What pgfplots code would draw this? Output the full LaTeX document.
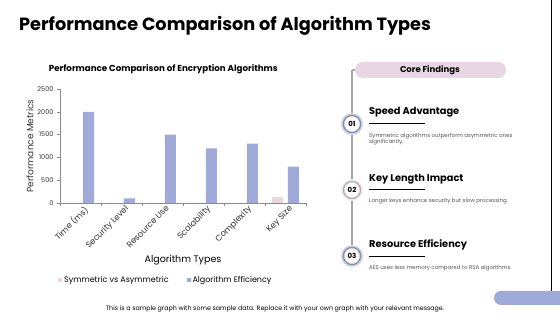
\documentclass[border=0pt]{standalone}
\usepackage{pgfplots}
\pgfplotsset{compat=1.18}
\usepackage{fontspec}
\setmainfont{Poppins}
\definecolor{effc}{HTML}{A0AAD8}
\definecolor{symc}{HTML}{EAD6DE}
\definecolor{pillc}{HTML}{E8D6E4}
\definecolor{axc}{HTML}{8C8C8C}
\definecolor{txc}{HTML}{555555}
\newcommand{\fs}[1]{\fontsize{#1bp}{#1bp}\selectfont}
\begin{document}
\begin{tikzpicture}
\path[use as bounding box, fill=white] (0,0) rectangle (560bp,315bp);
\begin{scope}[x=1bp,y=-1bp,shift={(0,315bp)}]
\clip (0,0) rectangle (560,315);
% main title
\node[anchor=west, inner sep=0] at (19,26) {\fs{17.7}\bfseries Performance Comparison of Algorithm Types};
% right black line and pill
\draw[black, line width=0.8bp] (551,0) -- (551,300);
\fill[effc, rounded corners=7bp] (494,291) rectangle (590,305);
% timeline
\draw[gray!70, line width=1.2bp] (352,70) -- (352,256);
\draw[gray!70, line width=1.2bp] (352,70) -- (357,70);
\fill[pillc, rounded corners=8bp] (355,62) rectangle (506,78);
\node at (430,70) {\fs{8.5}\bfseries Core Findings};
% circles
\foreach \yy/\lab/\cc in {124/01/effc,190/02/pillc,256/03/effc}{
  \fill[white] (352,\yy) circle (10.5);
  \draw[\cc!60, line width=1.2bp] (352,\yy) circle (10.2);
  \draw[\cc!80!black, line width=1.3bp] (352,\yy) circle (8.6);
  \draw[gray!40, line width=0.4bp] (352,\yy) circle (7.6);
  \node at (352,\yy) {\fs{7}\bfseries \lab};
}
% headings
\node[anchor=west, inner sep=0] at (369,112) {\fs{9.8}\bfseries Speed Advantage};
\draw[black, line width=0.5bp] (369,123) -- (425,123);
\node[anchor=north west, inner sep=0, align=left, text=txc, font=\fontsize{5.5bp}{6.5bp}\selectfont] at (369,133) {Symmetric algorithms outperform asymmetric ones\\significantly.};
\node[anchor=west, inner sep=0] at (369,179) {\fs{9.8}\bfseries Key Length Impact};
\draw[black, line width=0.5bp] (369,189) -- (425,189);
\node[anchor=west, inner sep=0, text=txc] at (369,201.5) {\fs{5.5}Longer keys enhance security but slow processing.};
\node[anchor=west, inner sep=0] at (369,245) {\fs{9.8}\bfseries Resource Efficiency};
\draw[black, line width=0.5bp] (369,256) -- (425,256);
\node[anchor=west, inner sep=0, text=txc] at (369,268.5) {\fs{5.5}AES uses less memory compared to RSA algorithms.};
% footer
\node at (275,309) {\fs{6.3}This is a sample graph with some sample data. Replace it with your own graph with your relevant message.};
\end{scope}
\begin{axis}[
  at={(60bp,112bp)}, anchor=south west,
  scale only axis, width=246bp, height=114bp,
  xmin=-0.5, xmax=5.5, ymin=0, ymax=2500,
  axis x line*=bottom, axis y line*=left,
  axis line style={draw=axc, line width=0.6bp},
  ytick={0,500,1000,1500,2000,2500},
  xtick={0,1,2,3,4,5},
  xticklabels={Time (ms),Security Level,Resource Use,Scalability,Complexity,Key Size},
  minor xtick={-0.5,0.5,1.5,2.5,3.5,4.5,5.5},
  major x tick style={draw=none},
  tick align=outside, tick style={draw=axc, line width=0.6bp},
  major tick length=3bp, minor tick length=3bp,
  x tick label style={rotate=45, anchor=north east, font=\fs{8.3}, text=black!80, inner sep=1bp, xshift=4bp},
  y tick label style={font=\fs{6.5}, text=black!80},
  /pgf/number format/assume math mode=true,
  /pgf/number format/1000 sep={},
  scaled y ticks=false,
  title={\bfseries Performance Comparison of Encryption Algorithms},
  title style={at={(axis description cs:0.42,1.12)}, anchor=center, font=\fs{8.7}},
  xlabel={Algorithm Types},
  xlabel style={at={(axis description cs:0.5,-0.5)}, anchor=center, font=\fs{9.5}},
  ylabel={Performance Metrics},
  ylabel style={at={(axis description cs:-0.122,0.5)}, anchor=center, font=\fs{9}, text=black!80},
  legend columns=2,
  legend style={draw=none, fill=none, at={(axis description cs:0.43,-0.675)}, anchor=center, font=\fs{8},
    /tikz/every even column/.append style={column sep=16bp}},
  legend image code/.code={\fill[#1] (0bp,-2bp) rectangle (4bp,2bp);},
]
\addplot[ybar, bar width=11bp, bar shift=-8bp, fill=symc, draw=none] coordinates {(0,0) (1,0) (2,0) (3,0) (4,0) (5,128)};
\addplot[ybar, bar width=11bp, bar shift=8bp, fill=effc, draw=none] coordinates {(0,2000) (1,100) (2,1500) (3,1200) (4,1300) (5,800)};
\legend{Symmetric vs Asymmetric, Algorithm Efficiency}
\end{axis}
\end{tikzpicture}
\end{document}
